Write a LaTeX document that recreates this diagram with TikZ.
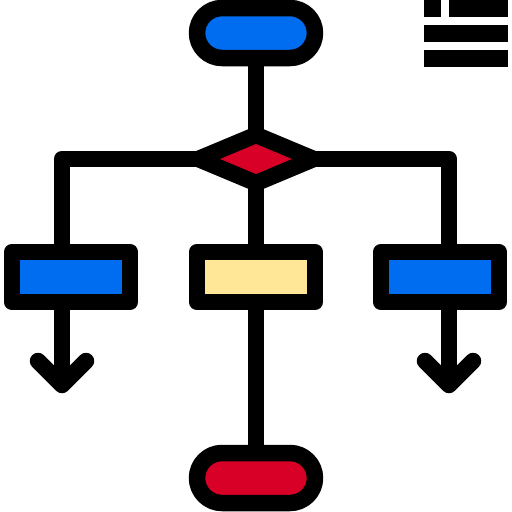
\documentclass[tikz,border=0pt]{standalone}
\usetikzlibrary{shapes.geometric}
\usetikzlibrary{backgrounds}
\definecolor{iconblue}{HTML}{006DF0}
\definecolor{iconred}{HTML}{D80027}
\definecolor{iconyellow}{HTML}{FFE797}
\begin{document}
\begin{tikzpicture}[x=0.02cm, y=-0.02cm, line width=0.33cm, line join=round,
  wire/.style={line width=0.33cm, line join=round},
  pill/.style={draw, rounded corners=0.5cm, minimum width=2.36cm, minimum height=1cm, inner sep=0},
  box/.style={draw, minimum width=2.36cm, minimum height=1cm, inner sep=0},
  choice/.style={draw, diamond, minimum width=2.44cm, minimum height=1.1cm, inner sep=0, fill=iconred}]
\useasboundingbox (0,0) rectangle (512,512);
\node[pill, fill=iconblue] (start) at (256,33) {};
\node[choice] (test) at (256,159) {};
\node[box, fill=iconblue] (left) at (71,277) {};
\node[box, fill=iconyellow] (mid) at (256,277) {};
\node[box, fill=iconblue] (right) at (440,277) {};
\node[pill, fill=iconred] (stop) at (256,478) {};
\coordinate (ltip) at (62,385);
\coordinate (rtip) at (449,385);
\begin{scope}[on background layer]
\draw[wire] (start.center) -- (test.center);
\draw[wire] (test.center) -- (mid.center);
\draw[wire] (mid.center) -- (stop.center);
\draw[wire] (test.center) -| (ltip);
\draw[wire] (test.center) -| (rtip);
\end{scope}
\draw[line cap=round] (ltip) ++(-24,-24) -- (ltip) -- ++(24,-24);
\draw[line cap=round] (rtip) ++(-24,-24) -- (rtip) -- ++(24,-24);
% menu lines
\fill (424,0) rectangle (441,17);
\fill (449,0) rectangle (508,17);
\fill (424,25) rectangle (508,42);
\fill (424,50) rectangle (508,67);
\end{tikzpicture}
\end{document}
